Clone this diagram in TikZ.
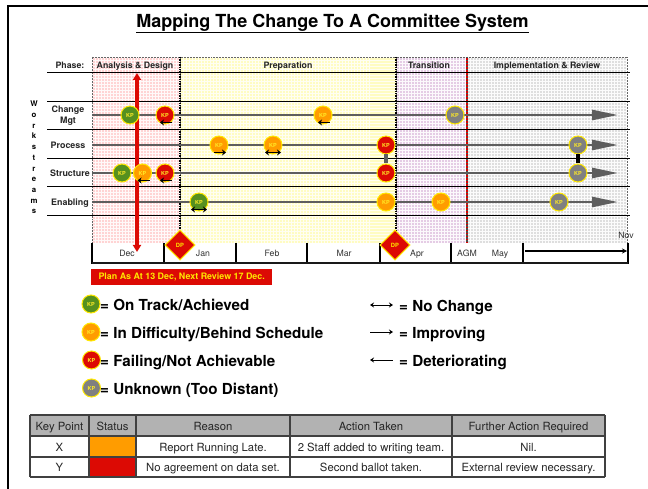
\documentclass[tikz,border=0pt]{standalone}
\usepackage{fontspec}
\setmainfont{TeX Gyre Heros}
\usetikzlibrary{arrows.meta,calc}
\definecolor{kgreen}{HTML}{56901F}
\definecolor{korange}{HTML}{FF9C00}
\definecolor{kred}{HTML}{DC0A04}
\definecolor{kgrey}{HTML}{808080}
\definecolor{kyel}{HTML}{FFE800}
\definecolor{rowgrey}{HTML}{5E5E5E}
\newcommand{\fs}[1]{\fontsize{#1}{#1}\selectfont}
\tikzset{
 kp/.style={circle,draw=kyel,line width=1pt,minimum size=18pt,inner sep=0pt,text=kyel!85!white,font=\fs{5.5}\bfseries},
 kpg/.style={kp,fill=kgreen},kpo/.style={kp,fill=korange},kpr/.style={kp,fill=kred},kpk/.style={kp,fill=kgrey},
 rowline/.style={draw=rowgrey,line width=2.6pt},
 rowarrow/.style={rowline,-{Triangle[length=26pt,width=10pt]}},
 hline/.style={draw=black,line width=0.8pt},
 phase/.style={font=\fs{8.8}\bfseries,text=black!85,inner sep=0pt,anchor=base},
 rowlab/.style={font=\fs{8.9}\bfseries,text=black!85,inner sep=0pt,align=center},
 month/.style={font=\fs{8.7},text=black!80,inner sep=0pt,anchor=base},
 legt/.style={font=\fs{15.2}\bfseries,anchor=base west,inner sep=0pt},
 trend/.style={draw=black,line width=1.5pt},
 tcell/.style={font=\fs{11.3},text=black!85,inner sep=0pt,anchor=base},
 tline/.style={draw=black!75,line width=1.2pt},
 legarrow/.style={draw=black,line width=1pt},
 dpbox/.style={draw=kyel,fill=kred,line width=1pt,minimum size=21pt,inner sep=0pt,rotate=45},
 dptext/.style={font=\fs{5.8}\bfseries,text=kyel,inner sep=0pt},
}
\newcommand{\band}[4]{% x1 x2 fill grid
 \fill[#3] (#1,57) rectangle (#2,243);
 \begin{scope}
 \clip (#1,57) rectangle (#2,243);
 \foreach \g in {0,3,...,190}{\draw[#4,line width=0.5pt] (#1+\g,57) -- (#1+\g,243);}
 \foreach \g in {0,3,...,190}{\draw[#4,line width=0.5pt] (#1,57+\g) -- (#2,57+\g);}
 \end{scope}
 \draw[black!60,line width=0.5pt,densely dotted] (#1,57) rectangle (#2,243);
}
\newcommand{\dl}[1]{\draw[trend,{Stealth[length=4pt,width=6pt]}-] ([shift={(-5,7.5)}]#1.center) -- ([shift={(7,7.5)}]#1.center);}
\newcommand{\dr}[1]{\draw[trend,-{Stealth[length=4pt,width=6pt]}] ([shift={(-5,7.5)}]#1.center) -- ([shift={(7,7.5)}]#1.center);}
\newcommand{\db}[1]{\draw[trend,{Stealth[length=4pt,width=6pt]}-{Stealth[length=4pt,width=6pt]}] ([shift={(-8,7.5)}]#1.center) -- ([shift={(8,7.5)}]#1.center);}
\begin{document}
\begin{tikzpicture}[x=1pt,y=-1pt]
\useasboundingbox (0,0) rectangle (648,489);
\fill[white] (0,0) rectangle (648,489);
% frame
\coordinate (fa) at (8,489); \coordinate (fb) at (8,6.5); \coordinate (fc) at (648,6.5);
\draw[black,line width=2pt] (fa) -- (fb) -- (fc);
% title
\node[font=\fs{18}\bfseries,inner sep=0pt] (title) at (332.5,23) {Mapping The Change To A Committee System};
\coordinate (tl) at ($(title.south west)+(0,0.5)$);
\coordinate (tr) at ($(title.south east)+(0,0.5)$);
\draw[black,line width=1pt] (tl) -- (tr);
% bands
\band{92}{180}{red!17!white}{white!70!red!8!white}
\band{180}{396}{yellow!24!white}{white!75!yellow!20!white}
\band{396}{467}{violet!20!white}{white!70!violet!8!white}
\band{467}{627}{black!13}{white!70!black!5}
\coordinate (d1a) at (180,57);\coordinate (d1b) at (180,243);
\coordinate (d2a) at (396,57);\coordinate (d2b) at (396,243);
\coordinate (d3a) at (467,57);\coordinate (d3b) at (467,243);
\draw[black,line width=1.4pt,densely dotted] (d1a) -- (d1b);
\draw[black,line width=1.4pt,densely dotted] (d2a) -- (d2b);
\draw[black!70,line width=1.4pt,dash pattern=on 1.5pt off 1.5pt] (d3a) -- (d3b);
\draw[red!85!black,line width=1.4pt,dash pattern=on 1.5pt off 1.5pt,dash phase=1.5pt] (d3a) -- (d3b);
% horizontal lines
\foreach \n/\y in {a/72,b/101,c/129,d/158,e/186,f/215}{
 \coordinate (h\n l) at (47,\y); \coordinate (h\n r) at (630,\y);
 \draw[hline] (h\n l) -- (h\n r);
}
% phase labels
\node[phase] (ph0) at (70,68.2) {Phase:};
\node[phase] (ph1) at (135,68.2) {Analysis \& Design};
\node[phase] (ph2) at (288,68.2) {Preparation};
\node[phase] (ph3) at (429,68.2) {Transition};
\node[phase] (ph4) at (547,68.2) {Implementation \& Review};
% workstreams
\node[font=\fs{7.8}\bfseries,inner sep=0pt,align=center] (ws) at (34,157.5) {W\\[2.9pt]o\\[2.9pt]r\\[2.9pt]k\\[2.9pt]s\\[2.9pt]t\\[2.9pt]r\\[2.9pt]e\\[2.9pt]a\\[2.9pt]m\\[2.9pt]s};
% row labels
\node[rowlab] (l1) at (68,115.5) {Change\\[2.2pt]Mgt};
\node[rowlab,anchor=base] (l2) at (68,148.2) {Process};
\node[rowlab,anchor=base] (l3) at (70,176.2) {Structure};
\node[rowlab,anchor=base] (l4) at (70,205.2) {Enabling};
% row lines
\foreach \n/\y in {1/115,2/145,3/173,4/202}{
 \coordinate (r\n s) at (92,\y); \coordinate (r\n e) at (618,\y);
 \draw[rowarrow] (r\n s) -- (r\n e);
}
% month strip
\coordinate (m0) at (92,263); \coordinate (m7) at (628,263);
\fill[white] (92,243.5) rectangle (628,263);
\foreach \n/\x in {0/92,1/164,2/236,3/307,4/380,5/451,6/523,7/628}{
 \coordinate (mt\n) at (\x,243); \coordinate (mb\n) at (\x,263.5);
 \draw[black,line width=1.3pt] (mt\n) -- (mb\n);
}
\draw[black!90,line width=1.5pt] (m0) -- (m7);
\node[month] (dec) at (127,256) {Dec};
\node[month] (jan) at (203,257) {Jan};
\node[month] (feb) at (272,256) {Feb};
\node[month] (mar) at (344,256) {Mar};
\node[month] (apr) at (417,256.5) {Apr};
\node[month] (agm) at (467,257) {AGM};
\node[month] (may) at (500,256) {May};
\node[month] (nov) at (626,239) {Nov};
\coordinate (ma) at (525,251); \coordinate (mz) at (627,251);
\draw[black,line width=1.3pt,-{Stealth[length=5pt,width=5pt]}] (ma) -- (mz);
% red arrow
\coordinate (ra) at (137,73); \coordinate (rb) at (137,252);
\draw[draw=kred,line width=3.2pt,{Triangle[length=7pt,width=8pt]}-{Triangle[length=7pt,width=8pt]}] (ra) -- (rb);
% KPs
\node[kpg] (a1) at (130,115) {KP};
\node[kpr] (a2) at (165,115) {KP};
\node[kpo] (a3) at (323,115) {KP};
\node[kpk] (a4) at (455,115) {KP};
\node[kpo] (b1) at (219,145) {KP};
\node[kpo] (b2) at (273,145) {KP};
\node[kpr] (b3) at (386,145) {KP};
\node[kpk] (b4) at (578,145) {KP};
\node[kpg] (c1) at (122,173) {KP};
\node[kpo] (c2) at (142.5,173) {KP};
\node[kpr] (c3) at (165,173) {KP};
\node[kpr] (c4) at (386,173) {KP};
\node[kpk] (c5) at (578,173) {KP};
\node[kpg] (d1) at (199,202) {KP};
\node[kpo] (d2) at (386,202) {KP};
\node[kpo] (d3) at (441,202) {KP};
\node[kpk] (d4) at (559,202) {KP};
\draw[draw=rowgrey,line width=4pt] (b3) -- (c4);
\draw[draw=black,line width=4pt] (b4) -- (c5);
\dl{a2}\dl{a3}\dl{c2}\dl{c3}
\dr{b1}\db{b2}\db{d1}
% diamonds
\node[dpbox] (dp1) at (180,245) {};
\node[dptext] (dt1) at (180,245) {DP};
\node[dpbox] (dp2) at (395,245) {};
\node[dptext] (dt2) at (395,245) {DP};
% banner
\node[fill=kred,text=kyel,font=\fs{8.9}\bfseries,anchor=west,minimum height=16pt,minimum width=181pt,inner sep=0pt] (ban) at (91,277) {Plan As At 13 Dec, Next Review 17 Dec.};
% legend
\node[kpg] (lg1) at (91,304) {KP};
\node[kpo] (lg2) at (91,332) {KP};
\node[kpr] (lg3) at (91.5,360) {KP};
\node[kpk] (lg4) at (91.5,388) {KP};
\node[legt] (lt1) at (100,310.2) {= On Track/Achieved};
\node[legt] (lt2) at (100,338.3) {= In Difficulty/Behind Schedule};
\node[legt] (lt3) at (100,366.3) {= Failing/Not Achievable};
\node[legt] (lt4) at (100,394.2) {= Unknown (Too Distant)};
\node[legt] (lr1) at (399,311.3) {= No Change};
\node[legt] (lr2) at (399,338.3) {= Improving};
\node[legt] (lr3) at (399,366.3) {= Deteriorating};
\coordinate (ar1a) at (370,305); \coordinate (ar1b) at (393,305);
\coordinate (ar2a) at (370,332); \coordinate (ar2b) at (393,332);
\coordinate (ar3a) at (370,360); \coordinate (ar3b) at (393,360);
\draw[legarrow,{Stealth[length=4pt,width=5pt]}-{Stealth[length=4pt,width=5pt]}] (ar1a) -- (ar1b);
\draw[legarrow,-{Stealth[length=4pt,width=5pt]}] (ar2a) -- (ar2b);
\draw[legarrow,{Stealth[length=4pt,width=5pt]}-] (ar3a) -- (ar3b);
% table
\fill[black!30] (30,415) rectangle (605,436);
\fill[korange] (89,436) rectangle (136,457);
\fill[kred] (89,457) rectangle (136,477);
\foreach \x in {30,89,136,290,452,605}{\draw[tline] (\x,415) -- (\x,477);}
\foreach \y in {415,436,457,477}{\draw[tline] (30,\y) -- (605,\y);}
\foreach \nm/\x/\y/\t in {
 t1/59.5/430/Key Point,t2/112.5/430/Status,t3/213/430/Reason,t4/371/430/Action Taken,t5/528.5/430/Further Action Required,
 t6/59.5/451/X,t7/213/451/Report Running Late.,t8/371/451/2 Staff added to writing team.,t9/528.5/451/Nil.,
 t10/59.5/471/Y,t11/213/471/No agreement on data set.,t12/371/471/Second ballot taken.,t13/528.5/471/External review necessary.}{
 \node[tcell] (\nm) at (\x,\y) {\t};
}
\end{tikzpicture}
\end{document}
